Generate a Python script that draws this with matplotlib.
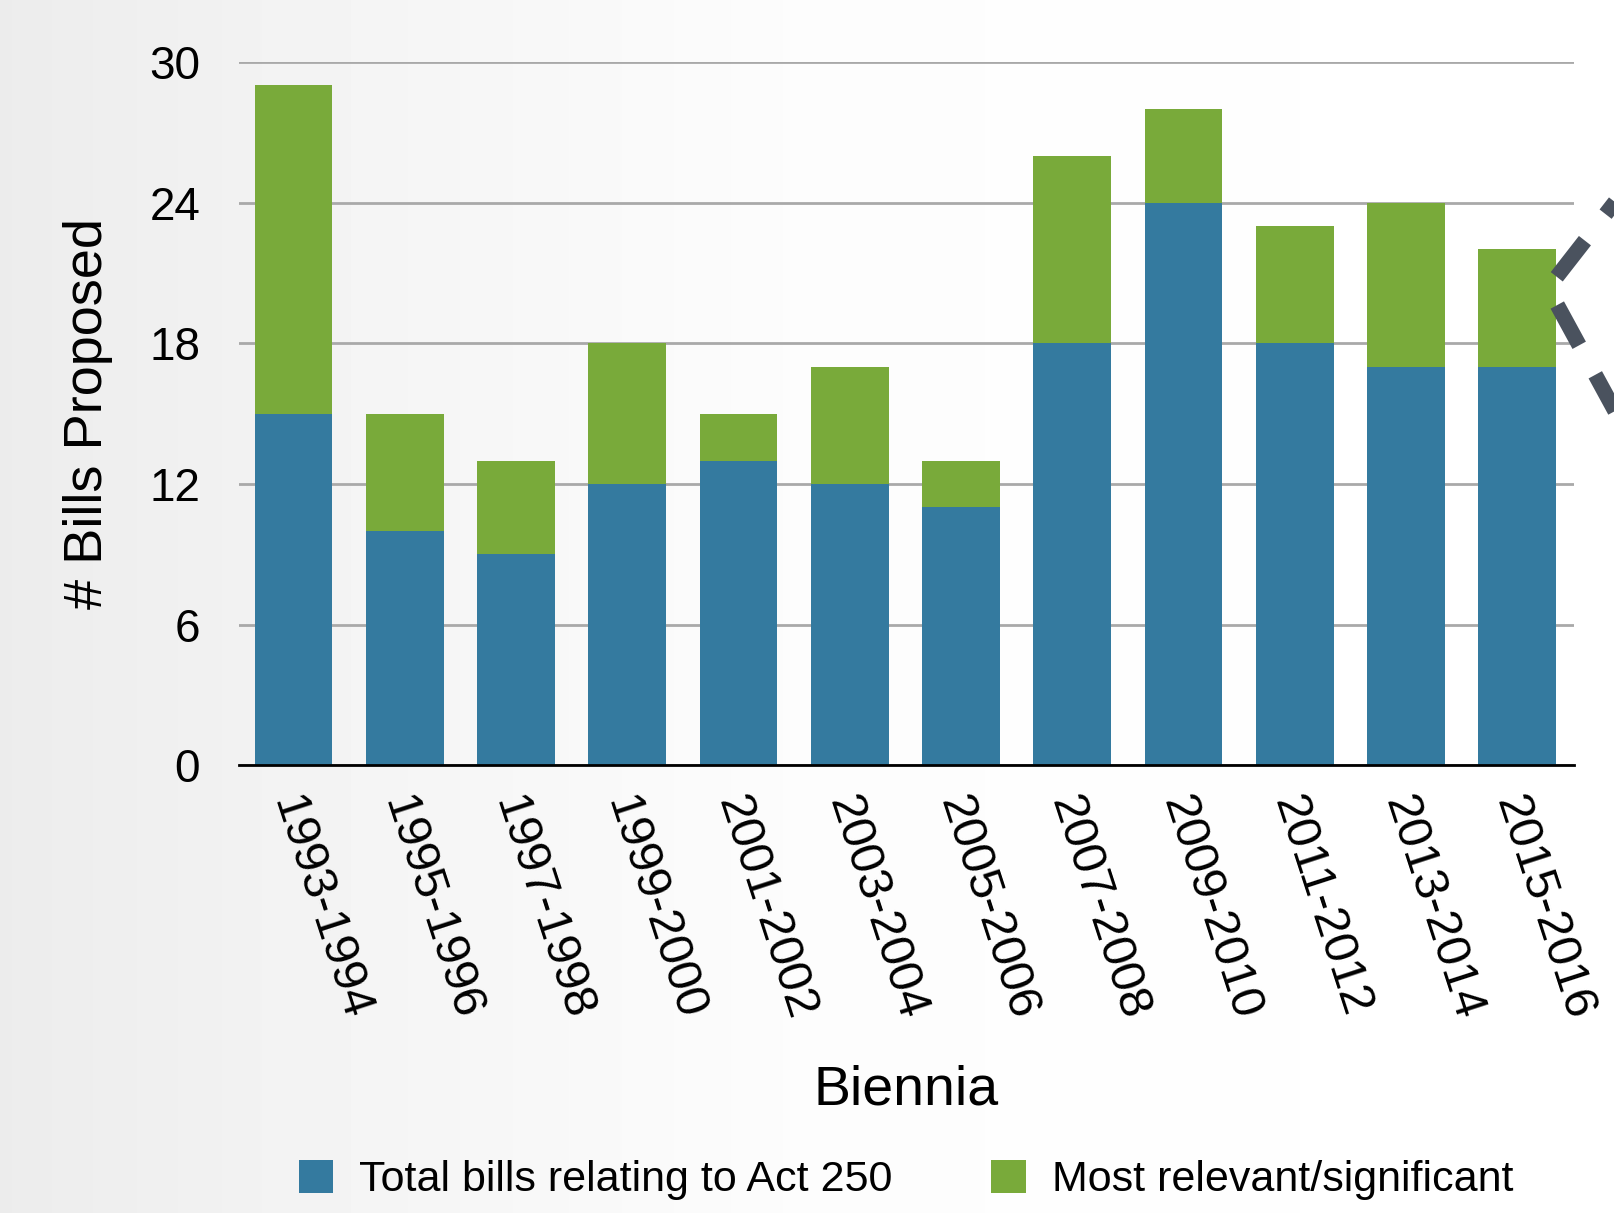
import numpy as np
import matplotlib
matplotlib.use("Agg")
import matplotlib.pyplot as plt
import matplotlib.transforms as mtransforms
from matplotlib.lines import Line2D

# Bills proposed per biennium
biennia = ["1993-1994", "1995-1996", "1997-1998", "1999-2000", "2001-2002",
           "2003-2004", "2005-2006", "2007-2008", "2009-2010", "2011-2012",
           "2013-2014", "2015-2016"]
total_bills = [15, 10, 9, 12, 13, 12, 11, 18, 24, 18, 17, 17]
most_relevant = [14, 5, 4, 6, 2, 5, 2, 8, 4, 5, 7, 5]
y_ticks = [0, 6, 12, 18, 24, 30]

blue = "#347a9f"
green = "#79aa3a"

plt.rcParams['font.family'] = ['Liberation Sans', 'DejaVu Sans']

fig = plt.figure(figsize=(16.15, 12.13), dpi=100)

# soft grey-to-white background
bg = fig.add_axes([0, 0, 1, 1], zorder=-10)
grad = np.interp(np.linspace(0, 1, 400), [0, 0.2, 0.5, 1], [0.925, 0.955, 0.99, 1.0])
bg.imshow(np.tile(grad, (10, 1)), cmap="gray", vmin=0, vmax=1, aspect="auto",
          extent=[0, 1, 0, 1])
bg.axis("off")

ax = fig.add_axes([0.148, 0.369, 0.8266, 0.58])
ax.patch.set_alpha(0)

x = np.arange(len(biennia))
ax.bar(x, total_bills, width=0.7, color=blue, label="Total bills relating to Act 250", zorder=3)
ax.bar(x, most_relevant, width=0.7, bottom=total_bills, color=green,
       label="Most relevant/significant", zorder=3)

ax.set_xlim(-0.49, 11.51)
ax.set_ylim(0, 30)
ax.set_yticks(y_ticks)
ax.set_yticklabels([str(v) for v in y_ticks], fontsize=33)
ax.yaxis.grid(True, color="#a9a9a9", linewidth=2, zorder=1)
ax.set_axisbelow(True)

for side in ["top", "right", "left"]:
    ax.spines[side].set_visible(False)
ax.spines["bottom"].set_linewidth(2)
ax.spines["bottom"].set_zorder(4)
ax.tick_params(length=0, pad=28, axis="y")
ax.tick_params(length=0, pad=18, axis="x")

ax.set_xticks(x)
ax.set_xticklabels(biennia, rotation=-72, ha="left", va="top",
                   rotation_mode="anchor", fontsize=35)
shift = mtransforms.ScaledTranslation(12 / 100, 0, fig.dpi_scale_trans)
for lbl in ax.get_xticklabels():
    lbl.set_transform(lbl.get_transform() + shift)

ax.set_ylabel("# Bills Proposed", fontsize=39, labelpad=26)
ax.set_xlabel("Biennia", fontsize=40, labelpad=28)

fig.legend(loc="center", bbox_to_anchor=(0.561, 0.027), ncol=2, frameon=False,
           fontsize=31, handlelength=0.8, handleheight=0.8, columnspacing=2.3,
           handletextpad=0.6)

# dashed connector poking in from the right edge
fig.add_artist(Line2D([1.03, 1548 / 1615, 1.03],
                      [1 - 140 / 1213, 1 - 288 / 1213, 1 - 500 / 1213],
                      transform=fig.transFigure, color="#4a525e", linewidth=11,
                      linestyle=(2.0, (3.0, 2.2)), solid_joinstyle="miter",
                      dash_joinstyle="miter", dash_capstyle="butt"))

fig.savefig("out.png", dpi=100)
